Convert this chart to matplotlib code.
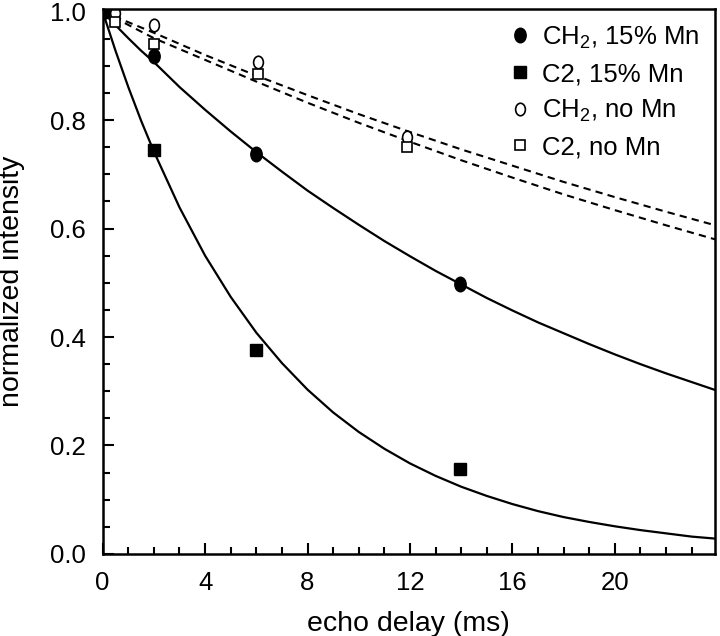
import numpy as np
import matplotlib
matplotlib.use('Agg')
import matplotlib.pyplot as plt
from matplotlib.path import Path
from matplotlib.lines import Line2D

plt.rcParams['font.family'] = ['Liberation Sans', 'DejaVu Sans']
plt.rcParams['mathtext.fontset'] = 'custom'
plt.rcParams['mathtext.rm'] = 'Liberation Sans'
plt.rcParams['mathtext.it'] = 'Liberation Sans:italic'

# measured points
x_pts = [0, 2, 6, 13.95]
ch2_mn = [1.0, 0.919, 0.737, 0.498]
c2_mn = [1.0, 0.745, 0.376, 0.157]

x_pts_no = [0.5, 2.0, 6.05, 11.9]
ch2_no = [0.998, 0.976, 0.907, 0.769]
c2_no = [0.980, 0.941, 0.885, 0.751]

# fitted curves
x_fit = [0, 0.5, 1, 1.5, 2, 3, 4, 5, 6, 7, 8, 9, 10, 11, 12, 13, 14, 15, 16,
         17, 18, 19, 20, 21, 22, 23, 24]
ch2_mn_fit = [1.0, 0.975, 0.951, 0.928, 0.907, 0.861, 0.819, 0.779, 0.741,
              0.705, 0.670, 0.638, 0.607, 0.577, 0.549, 0.522, 0.497, 0.472,
              0.449, 0.427, 0.407, 0.387, 0.368, 0.350, 0.333, 0.317, 0.301]
c2_mn_fit = [1.0, 0.928, 0.861, 0.799, 0.742, 0.639, 0.550, 0.474, 0.408,
             0.352, 0.303, 0.261, 0.225, 0.194, 0.167, 0.144, 0.124, 0.107,
             0.092, 0.079, 0.068, 0.059, 0.051, 0.044, 0.038, 0.032, 0.028]

x_dash = [0, 2, 4, 6, 8, 10, 12, 14, 16, 18, 20, 22, 24]
ch2_no_fit = [1.0, 0.961, 0.920, 0.882, 0.846, 0.811, 0.778, 0.746, 0.716,
              0.686, 0.658, 0.631, 0.605]
c2_no_fit = [1.0, 0.951, 0.911, 0.871, 0.832, 0.795, 0.760, 0.726, 0.694,
             0.663, 0.634, 0.606, 0.579]

# slightly tall ellipse marker, like the original
circ = Path.unit_circle()
ell = Path(circ.vertices * np.array([0.78, 1.0]), circ.codes)

fig = plt.figure(figsize=(7.2, 6.36), dpi=100)
ax = fig.add_axes([0.1426, 0.129, 0.850, 0.857])

ax.plot(x_fit, ch2_mn_fit, color='black', lw=1.6)
ax.plot(x_fit, c2_mn_fit, color='black', lw=1.6)
ax.plot(x_dash, ch2_no_fit, color='black', lw=1.5, ls=(0, (3.5, 2.5)))
ax.plot(x_dash, c2_no_fit, color='black', lw=1.5, ls=(0, (3.5, 2.5)))

ax.plot(x_pts, ch2_mn, ls='none', marker=ell, ms=10.5, color='black')
ax.plot(x_pts, c2_mn, ls='none', marker='s', ms=8.5, color='black')
ax.plot(x_pts_no, ch2_no, ls='none', marker=ell, ms=9, mfc='white',
        mec='black', mew=1.2)
ax.plot(x_pts_no, c2_no, ls='none', marker='s', ms=7.5, mfc='white',
        mec='black', mew=1.2)

ax.set_xlim(0, 23.9)
ax.set_ylim(0, 1.005)
ax.set_xticks([0, 4, 8, 12, 16, 20])
ax.set_xticks(np.arange(0, 24, 1), minor=True)
ax.set_yticks([0.0, 0.2, 0.4, 0.6, 0.8, 1.0])
ax.set_yticks(np.arange(0, 1.01, 0.05), minor=True)
ax.set_yticklabels(['0.0', '0.2', '0.4', '0.6', '0.8', '1.0'])
ax.tick_params(which='both', direction='in', width=1.5, labelsize=18.5)
ax.tick_params(which='major', length=8)
ax.tick_params(which='minor', length=5)
ax.tick_params(axis='x', pad=12)
ax.tick_params(axis='y', pad=12)
for s in ax.spines.values():
    s.set_linewidth(1.8)

ax.set_xlabel('echo delay (ms)', fontsize=20.5, labelpad=12)
ax.set_ylabel('normalized intensity', fontsize=20.5)
ax.yaxis.set_label_coords(-0.127, 0.5)

handles = [
    Line2D([], [], ls='none', marker=ell, ms=10.5, color='black'),
    Line2D([], [], ls='none', marker='s', ms=8.5, color='black'),
    Line2D([], [], ls='none', marker=ell, ms=9, mfc='white', mec='black', mew=1.2),
    Line2D([], [], ls='none', marker='s', ms=7.5, mfc='white', mec='black', mew=1.2),
]
labels = ['CH$_2$, 15% Mn', 'C2, 15% Mn', 'CH$_2$, no Mn', 'C2, no Mn']
ax.legend(handles, labels, loc='upper right', frameon=False, fontsize=18.5,
          handlelength=0.8, handletextpad=0.45, labelspacing=0.45,
          borderaxespad=0.2)

fig.savefig('out.png', dpi=100)
